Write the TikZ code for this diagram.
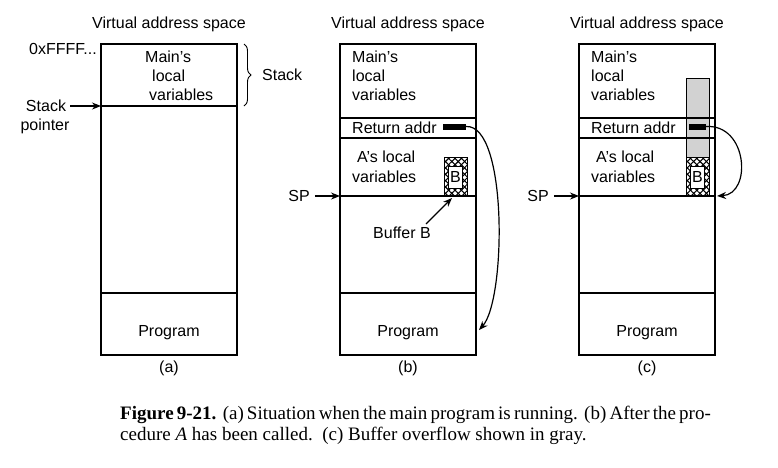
\documentclass[tikz,border=0pt]{standalone}
\usepackage{fontspec}
\setmainfont{Liberation Sans}
\newfontfamily\capfont{Liberation Serif}
\usetikzlibrary{arrows.meta}
\usetikzlibrary{patterns.meta}
\usetikzlibrary{decorations.pathreplacing}
\tikzset{
	membox/.style={draw, line width=1.2pt},
	lbl/.style={font=\fontsize{16}{19.5}\selectfont, inner sep=0pt},
	ptr/.style={-{Stealth[length=9pt, width=7pt]}, line width=1.2pt},
	hatchup/.style={pattern={Lines[angle=45, distance=4.5pt, line width=1.1pt]}},
	hatchdown/.style={pattern={Lines[angle=-45, distance=4.5pt, line width=1.1pt]}},
	retbar/.style={fill=black, draw=none},
	captext/.style={anchor=base west, inner sep=0pt, font=\capfont\fontsize{19}{21}\selectfont},
}
\begin{document}
\begin{tikzpicture}[x=1pt,y=-1pt]
	\useasboundingbox (0,0) rectangle (778,467);
	% the three memory columns
	\foreach \x/\tag in {101/a,340/b,579/c}{
		\draw[membox] (\x,44) rectangle ++(136,311);
		\draw[membox] (\x,293) -- ++(136,0);
		\node[lbl] (title-\tag) at (\x+68,24) {Virtual address space};
		\node[lbl] (prog-\tag) at (\x+68,333) {Program};
		\node[lbl] (lab-\tag) at (\x+68,368) {(\tag)};
	}
	% (a)
	\draw[membox] (101,106) coordinate (a-sp) -- (237,106);
	\node[lbl, anchor=east] (top) at (97,49) {0xFFFF...};
	\node[lbl, anchor=base west] (main-a1) at (145,62) {Main's};
	\node[lbl, anchor=base west] (main-a2) at (152,81) {local};
	\node[lbl, anchor=base west] (main-a3) at (149,100) {variables};
	\draw[decorate, decoration={brace, amplitude=7pt}, line width=.9pt] (244,44) -- (244,106) coordinate[midway] (br);
	\node[lbl, anchor=west] (stack) at (262,75) {Stack};
	\node[lbl] (spa) at (46,106) {Stack};
	\node[lbl] (spb) at (45,126) {pointer};
	\draw[ptr] (spa.east) ++(4,0) -- (a-sp);
	% frames of (b) and (c)
	\foreach \x/\tag in {340/b,579/c}{
		\draw[membox] (\x,118) -- ++(136,0);
		\draw[membox] (\x,138) -- ++(136,0);
		\draw[membox] (\x,196) coordinate (\tag-sp) -- ++(136,0);
		\node[lbl, anchor=base west] (main-\tag1) at (\x+12,62) {Main's};
		\node[lbl, anchor=base west] (main-\tag2) at (\x+12,81) {local};
		\node[lbl, anchor=base west] (main-\tag3) at (\x+12,100) {variables};
		\node[lbl, anchor=west] (ret-\tag) at (\x+12,128) {Return addr};
		\node[lbl, anchor=base west] (loc-\tag1) at (\x+17,162) {A's local};
		\node[lbl, anchor=base west] (loc-\tag2) at (\x+12,182) {variables};
		\node[lbl] (sp-\tag) at (\x-41,196) {SP};
		\draw[ptr] (sp-\tag.east) ++(5,0) -- (\tag-sp);
	}
	% (b)
	\fill[hatchup] (444,157) rectangle (467,196);
	\fill[hatchdown] (444,157) rectangle (467,196);
	\draw[line width=1pt] (444,157) rectangle (467,196);
	\node[lbl, draw, fill=white, line width=1pt, minimum width=14pt, minimum height=22pt] (buf-b) at (455.5,177) {B};
	\fill[retbar] (443,123.5) rectangle (466,129.5);
	\coordinate (bar-b) at (466,126.5);
	\node[lbl] (bufname) at (402,233) {Buffer B};
	\coordinate (buf-b-foot) at (452,198);
	\draw[ptr] (bufname.north east) ++(-5,-3) -- (buf-b-foot);
	\coordinate (prog-end) at (479,330);
	\draw[ptr] (bar-b) .. controls (508,124) and (506,300) .. (prog-end);
	% (c)
	\fill[gray!35] (686,78) rectangle (709,157);
	\draw[line width=1pt] (686,157) -- (686,78) -- (709,78) -- (709,157);
	\draw[membox] (686,118) -- (715,118);
	\draw[membox] (686,138) -- (715,138);
	\fill[hatchup] (686,157) rectangle (709,196);
	\fill[hatchdown] (686,157) rectangle (709,196);
	\draw[line width=1pt] (686,157) rectangle (709,196);
	\node[lbl, draw, fill=white, line width=1pt, minimum width=14pt, minimum height=22pt] (buf-c) at (697.5,177) {B};
	\fill[retbar] (689,123.5) rectangle (706,129.5);
	\coordinate (bar-c) at (706,126.5);
	\coordinate (c-end) at (717,196);
	\draw[ptr] (bar-c) .. controls (748,124) and (752,194) .. (c-end);
	% caption
	\node[captext] (cap1) at (120,419)
		{\hbox to 583pt{\textbf{Figure 9-21.}\ \ (a) Situation when the main program is running.\ \ (b) After the pro-}};
	\node[captext] (cap2) at (120,440)
		{cedure \textit{A} has been called.\ \ (c) Buffer overflow shown in gray.};
\end{tikzpicture}
\end{document}
